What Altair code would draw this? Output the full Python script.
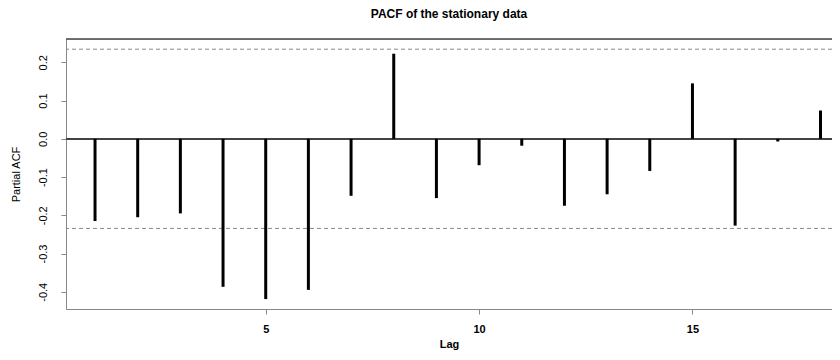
import altair as alt
import pandas as pd

lags = list(range(1, 19))
pacf = [-0.215, -0.205, -0.195, -0.387, -0.419, -0.395, -0.149, 0.2225, -0.155,
        -0.069, -0.018, -0.175, -0.145, -0.084, 0.145, -0.227, -0.007, 0.074]
ci_levels = [0.2343, -0.2343]
x_ticks = [5, 10, 15]
y_ticks = [-0.4, -0.3, -0.2, -0.1, 0.0, 0.1, 0.2]

df = pd.DataFrame({"lag": lags, "pacf": pacf, "zero": [0.0] * len(lags)})
ci_df = pd.DataFrame({"ci": ci_levels})

FONT = "Liberation Sans"
xscale = alt.Scale(domain=[0.32, 18.27], nice=False, zero=False)
yscale = alt.Scale(domain=[-0.445, 0.261], nice=False, zero=False)

bars = alt.Chart(df).mark_rule(color="black", strokeWidth=3, strokeCap="butt").encode(
    x=alt.X("lag:Q", scale=xscale,
            axis=alt.Axis(values=x_ticks, title="Lag", format="d", grid=False,
                          labelFontWeight="bold", labelFontSize=11,
                          titleFontWeight="bold", titleFontSize=11,
                          labelPadding=9, titlePadding=4)),
    y=alt.Y("pacf:Q", scale=yscale,
            axis=alt.Axis(values=y_ticks, title="Partial ACF", grid=False,
                          labelExpr="replace(format(datum.value, '.1f'), '\u2212', '-')",
                          labelAngle=270, labelAlign="center", labelBaseline="alphabetic",
                          labelFontSize=11, labelPadding=14.5,
                          titlePadding=16, titleFontSize=11, titleFontWeight="normal")),
    y2="zero:Q",
)

zero_line = alt.Chart(df).mark_rule(color="#444", strokeWidth=1).encode(y=alt.datum(0))

ci_lines = alt.Chart(ci_df).mark_rule(color="#888", strokeWidth=1, strokeDash=[4, 3]).encode(
    y=alt.Y("ci:Q", scale=yscale)
)

top_border = alt.Chart(ci_df).mark_rule(color="#444", strokeWidth=1).encode(y=alt.value(0))

chart = (
    alt.layer(ci_lines, zero_line, top_border, bars)
    .properties(
        width=766,
        height=270,
        title=alt.TitleParams("PACF of the stationary data", font=FONT, fontSize=12,
                              fontWeight="bold", anchor="middle", offset=18),
        autosize=alt.AutoSizeParams(type="none"),
        padding={"left": 58, "top": 31, "right": 0, "bottom": 43},
    )
    .configure_view(stroke=None)
    .configure_axis(
        grid=False,
        domainColor="#444",
        tickColor="#444",
        tickSize=6,
        labelFont=FONT,
        labelColor="black",
        titleFont=FONT,
        titleColor="black",
    )
    .configure(background="white")
)

chart.save("out.html", embed_options={"renderer": "svg", "actions": False})
